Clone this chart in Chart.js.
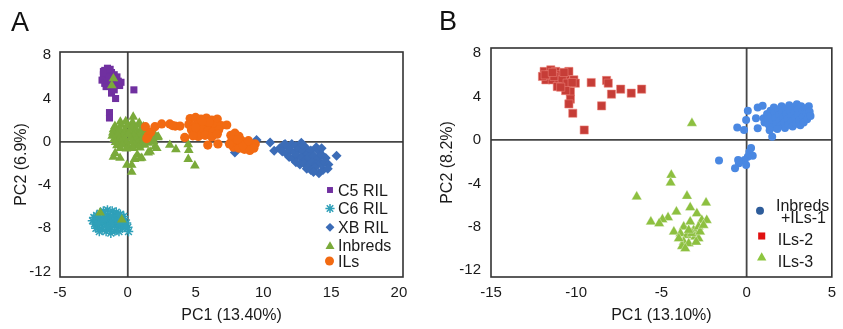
<!DOCTYPE html>
<html><head><meta charset="utf-8">
<script src="https://cdn.jsdelivr.net/npm/chart.js@4.4.0/dist/chart.umd.min.js"></script>
<style>
html,body{margin:0;padding:0;background:#fff;}
#wrap{position:relative;width:843px;height:329px;overflow:hidden;background:#fff;}
.pan{position:absolute;top:0;height:329px;}
.lbl{position:absolute;font-family:"Liberation Sans",Arial,sans-serif;font-size:27px;line-height:27px;color:#111;}
</style></head><body>
<div id="wrap">
<div class="pan" style="left:0;width:420px"><canvas id="cA" width="420" height="329"></canvas></div>
<div class="pan" style="left:420px;width:423px"><canvas id="cB" width="423" height="329"></canvas></div>
<div class="lbl" style="left:11px;top:9px">A</div>
<div class="lbl" style="left:439px;top:8px">B</div>
</div>
<script>
// ---------- Panel A data ----------
const aXTicks = [-5, 0, 5, 10, 15, 20];
const aYTicks = [-12, -8, -4, 0, 4, 8];
const aXTitle = 'PC1 (13.40%)';
const aYTitle = 'PC2 (6.9%)';
const aLabels = ['C5 RIL', 'C6 RIL', 'XB RIL', 'Inbreds', 'ILs'];

const c5Points = [[-1.8,6.2],[-1.7,6.6],[-1.5,6.8],[-1.3,6.7],[-1.2,6.4],[-1.6,6.0],[-1.4,6.1],[-1.0,6.2],[-0.8,6.0],[-0.7,5.6],[-1.9,5.7],[-1.7,5.4],[-1.5,5.6],[-1.3,5.3],[-1.1,5.8],[-0.9,5.4],[-0.6,5.2],[-1.6,5.1],[-1.4,5.9],[-1.2,5.0],[-1.0,4.8],[-1.8,6.5],[-1.3,6.0],[-0.5,5.5],[-1.2,4.5],[-0.9,4.0],[-1.35,2.7],[-1.35,2.2],[0.45,4.8]];

const c6Points = [[-2.6,-7.3],[-2.5,-7.0],[-2.45,-7.6],[-2.3,-6.8],[-2.25,-7.3],[-2.2,-7.9],[-2.05,-6.6],[-2.0,-7.1],[-1.95,-7.6],[-1.9,-8.1],[-1.8,-6.4],[-1.75,-6.9],[-1.7,-7.4],[-1.65,-7.85],[-1.6,-8.3],[-1.5,-6.3],[-1.45,-6.75],[-1.4,-7.2],[-1.35,-7.65],[-1.3,-8.1],[-1.25,-8.45],[-1.15,-6.4],[-1.1,-6.9],[-1.05,-7.35],[-1.0,-7.8],[-0.95,-8.25],[-0.85,-6.5],[-0.8,-7.0],[-0.75,-7.45],[-0.7,-7.9],[-0.65,-8.3],[-0.55,-6.7],[-0.5,-7.15],[-0.45,-7.6],[-0.4,-8.0],[-0.3,-6.9],[-0.25,-7.35],[-0.2,-7.8],[-0.1,-7.5],[0.0,-7.9],[0.05,-8.3],[-2.1,-8.3],[-1.55,-7.05],[-1.2,-7.55],[-0.9,-7.15],[-0.6,-7.55],[-2.35,-8.0],[-1.85,-7.25],[-1.25,-6.85],[-0.7,-6.8],[-1.5,-7.9],[-2.15,-7.55]];

const xbPoints = [[7.5,-0.15],[7.9,-1.0],[9.5,0.16],[10.5,-0.06],[10.8,-0.83],[15.4,-1.3],[11.2,-0.6],[11.5,-0.3],[11.8,-0.5],[12.1,-0.2],[12.4,-0.4],[12.8,-0.1],[13.1,-0.5],[11.4,-0.9],[11.7,-1.1],[12.0,-0.8],[12.3,-1.0],[12.6,-0.7],[12.9,-0.9],[13.2,-1.2],[13.5,-0.8],[13.9,-0.5],[14.1,-0.9],[11.9,-1.4],[12.2,-1.6],[12.5,-1.3],[12.8,-1.5],[13.1,-1.7],[13.4,-1.4],[13.7,-1.3],[14.0,-1.6],[14.3,-1.2],[14.6,-1.5],[12.4,-1.9],[12.7,-2.1],[13.0,-2.0],[13.3,-2.2],[13.6,-1.9],[13.9,-2.1],[14.2,-2.0],[14.5,-1.9],[14.8,-2.1],[13.2,-2.5],[13.5,-2.6],[13.8,-2.4],[14.1,-2.9],[14.4,-2.6],[14.75,-2.5],[13.7,-2.8],[11.6,-0.2],[12.9,-0.3],[14.3,-0.6]];

const inbredPoints = [[-0.55,1.85],[-0.15,1.9],[0.35,1.8],[0.85,1.75],[-0.95,1.45],[-0.5,1.55],[-0.05,1.5],[0.4,1.45],[0.75,1.55],[1.15,1.4],[-1.05,1.15],[-0.6,1.2],[-0.2,1.1],[0.25,1.25],[0.6,1.15],[1.0,1.2],[1.45,1.1],[-1.1,0.85],[-0.7,0.95],[-0.3,0.8],[0.1,0.9],[0.5,0.85],[0.95,0.95],[1.3,0.8],[1.75,0.9],[-1.15,0.55],[-0.75,0.6],[-0.35,0.5],[0.05,0.65],[0.45,0.55],[0.9,0.6],[1.35,0.5],[1.7,0.6],[2.05,0.55],[-1.0,0.25],[-0.6,0.3],[-0.25,0.2],[0.2,0.35],[0.65,0.25],[1.05,0.3],[1.45,0.2],[1.85,0.3],[2.2,0.4],[-0.9,-0.05],[-0.5,0.0],[-0.1,-0.1],[0.3,0.05],[0.75,-0.05],[1.15,0.0],[1.55,-0.1],[1.9,0.05],[-0.8,-0.35],[-0.4,-0.3],[0.05,-0.4],[0.45,-0.25],[0.85,-0.35],[1.25,-0.3],[-0.55,-0.6],[-0.1,-0.65],[0.4,-0.6],[0.9,-0.55],
  [0.4,2.3],[-1.06,5.85],[-1.18,5.2],[-0.93,-1.05],[-1.06,-1.4],[-0.57,-1.5],[-0.07,-2.15],[0.29,-2.15],[0.29,-2.8],[0.5,-1.6],[0.7,-1.2],[0.9,-1.53],[1.03,-1.5],[1.5,-1.0],[1.65,-0.92],[2.0,-0.46],[2.14,-0.6],[2.25,0.46],[3.1,-0.3],[3.55,-0.7],[4.46,-0.24],[4.5,-0.77],[4.46,-1.6],[4.95,-2.2],[-2.04,-6.55],[-0.44,-7.2]];

const ilPoints = [[1.3,1.4],[1.5,0.55],[1.7,0.9],[1.4,0.3],[2.0,1.4],[2.5,1.65],[3.1,1.65],[3.5,1.45],[3.85,1.45],[4.2,0.4],[3.3,1.5],
  [4.6,2.15],[5.0,2.25],[5.4,2.1],[5.8,2.2],[6.2,2.0],[6.6,2.1],[4.5,1.6],[4.9,1.5],[5.3,1.7],[5.7,1.55],[6.1,1.6],[6.5,1.4],[6.9,1.5],[7.3,1.55],[4.7,1.1],[5.1,0.9],[5.5,1.2],[5.9,1.0],[6.3,0.95],[6.7,1.1],[5.2,0.5],[5.7,0.6],[6.2,0.45],[6.6,0.7],[5.9,-0.3],[6.65,-0.2],[5.0,1.3],[6.0,1.8],[5.5,1.9],[4.8,0.55],
  [7.6,0.6],[7.9,0.8],[8.2,0.5],[7.7,0.2],[8.0,-0.1],[8.4,0.1],[8.8,-0.2],[9.1,-0.4],[9.4,-0.2],[7.8,-0.5],[8.2,-0.6],[8.6,-0.7],[9.0,-0.8],[8.5,-0.3],[8.1,0.2],[7.5,-0.2],[8.9,0.1],[9.3,-0.6]];

// ---------- Panel B data ----------
const bXTicks = [-15, -10, -5, 0, 5];
const bYTicks = [-12, -8, -4, 0, 4, 8];
const bXTitle = 'PC1 (13.10%)';
const bYTitle = 'PC2 (8.2%)';
const bLabels = ['Inbreds', '+ILs-1', 'ILs-2', 'ILs-3'];

const b1Points = [[1.0,2.0],[1.05,1.6],[1.2,2.4],[1.25,1.9],[1.3,1.4],[1.4,2.7],[1.45,2.2],[1.5,1.7],[1.55,1.2],[1.6,3.0],[1.65,2.5],[1.7,2.0],[1.75,1.5],[1.85,2.8],[1.9,2.3],[1.95,1.8],[2.0,1.3],[2.05,3.1],[2.1,2.6],[2.15,2.1],[2.2,1.6],[2.25,1.1],[2.3,2.9],[2.35,2.4],[2.4,1.9],[2.45,1.4],[2.5,3.2],[2.55,2.7],[2.6,2.2],[2.65,1.7],[2.7,1.25],[2.75,3.0],[2.8,2.5],[2.85,2.0],[2.9,1.5],[2.95,3.3],[3.0,2.8],[3.05,2.3],[3.1,1.8],[3.15,1.35],[3.2,3.1],[3.25,2.6],[3.3,2.1],[3.35,1.6],[3.45,2.9],[3.5,2.4],[3.55,1.9],[3.65,3.1],[3.7,2.6],[3.75,2.2],[1.35,0.9],[1.5,0.3],[1.8,1.0],
  [0.65,3.0],[0.94,3.15],[0.55,2.0],[0.65,1.08],[0.07,2.7],[-0.03,1.85],[-0.55,1.15],[-0.15,0.92],[0.26,-0.75],[0.16,-1.1],[0.36,-1.45],[0.07,-1.55],[-0.12,-1.85],[-0.5,-1.85],[-0.45,-2.15],[-0.03,-2.3],[-0.68,-2.6],[-1.62,-1.9]];

const b2Points = [[-11.88,6.31],[-11.49,6.46],[-11.2,6.31],[-10.91,6.0],[-10.62,5.85],[-10.43,6.31],[-10.14,5.54],[-10.05,5.23],[-11.78,5.54],[-11.4,5.54],[-11.01,5.38],[-10.72,5.08],[-10.53,4.77],[-10.34,4.46],[-11.59,6.0],[-11.3,5.85],[-10.82,5.54],[-10.53,5.23],[-10.24,5.29],[-11.98,5.85],[-11.11,4.92],[-10.62,4.55],[-11.82,6.0],[-11.4,6.22],[-10.72,6.22],[-10.91,4.86],
  [-10.34,3.76],[-10.43,3.32],[-10.2,2.46],[-9.53,0.92],[-9.12,5.29],[-8.22,5.48],[-8.12,5.23],[-7.93,4.22],[-8.51,3.14],[-7.39,4.68],[-6.77,4.31],[-6.16,4.68]];

const b3Points = [[-3.21,1.54],[-4.42,-3.23],[-4.46,-3.94],[-6.45,-5.23],[-3.5,-5.17],[-2.38,-5.79],[-3.31,-6.22],[-4.12,-6.62],[-4.61,-7.14],[-4.94,-7.32],[-5.62,-7.54],[-5.13,-7.69],[-2.92,-6.77],[-2.63,-7.39],[-2.34,-7.39],[-3.69,-8.0],[-4.27,-8.46],[-3.88,-8.62],[-3.5,-8.77],[-3.11,-8.31],[-2.82,-8.0],[-3.02,-8.92],[-3.69,-9.39],[-3.79,-9.79],[-3.4,-9.54],[-2.82,-9.08],[-3.21,-8.6],[-2.73,-8.46],[-2.53,-7.85],[-3.31,-7.54],[-3.98,-9.08],[-3.6,-10.0],[-2.96,-9.39],[-3.4,-8.31]];

// ---------- helpers ----------
const F = '"Liberation Sans", Arial, sans-serif';
const TXT = '#1a1a1a';
const pts = a => a.map(p => ({x: p[0], y: p[1]}));

const frame = {
  id: 'frame',
  beforeDatasetsDraw(c) {
    const {ctx, chartArea: a, scales: {x, y}} = c;
    ctx.save();
    ctx.strokeStyle = '#454545'; ctx.lineWidth = 1.8;
    const px = x.getPixelForValue(0), py = y.getPixelForValue(0);
    ctx.beginPath();
    ctx.moveTo(px, a.top); ctx.lineTo(px, a.bottom);
    ctx.moveTo(a.left, py); ctx.lineTo(a.right, py);
    ctx.stroke();
    ctx.restore();
  },
  afterDatasetsDraw(c) {
    const {ctx, chartArea: a} = c;
    ctx.save();
    ctx.strokeStyle = '#333'; ctx.lineWidth = 1.6;
    ctx.strokeRect(a.left, a.top, a.right - a.left, a.bottom - a.top);
    ctx.restore();
  }
};

const ilegend = {
  id: 'ilegend',
  afterDraw(c, args, o) {
    const ctx = c.ctx;
    ctx.save();
    (o.items || []).forEach(it => {
      ctx.fillStyle = it.color; ctx.strokeStyle = it.color; ctx.lineWidth = it.bw || 1;
      Chart.helpers.drawPoint(ctx, {pointStyle: it.style, radius: it.r, rotation: 0, borderWidth: it.bw || 0}, it.mx, it.my);
      ctx.fillStyle = TXT; ctx.font = '16px ' + F; ctx.textBaseline = 'alphabetic'; ctx.textAlign = 'left';
      it.lines.forEach(l => ctx.fillText(l.t, l.x, l.y));
    });
    ctx.restore();
  }
};

function mkScales(xmin, xmax, xticks, ymin, ymax, yticks, xTitle, yTitle, yW, yTitlePad, yTickPad) {
  return {
    x: {
      type: 'linear', min: xmin, max: xmax,
      afterBuildTicks: s => { s.ticks = xticks.map(v => ({value: v})); },
      grid: {display: false, drawTicks: false}, border: {display: false},
      ticks: {font: {size: 15, family: F}, color: TXT, padding: 7, maxRotation: 0, autoSkip: false},
      title: {display: true, text: xTitle, font: {size: 16, family: F}, color: TXT, padding: {top: 0, bottom: 4}},
      afterFit: s => { s.height = 52; }
    },
    y: {
      type: 'linear', min: ymin, max: ymax,
      afterBuildTicks: s => { s.ticks = yticks.map(v => ({value: v})); },
      grid: {display: false, drawTicks: false}, border: {display: false},
      ticks: {font: {size: 15, family: F}, color: TXT, padding: yTickPad, autoSkip: false},
      title: {display: true, text: yTitle, font: {size: 16, family: F}, color: TXT, padding: {top: yTitlePad, bottom: 0}},
      afterFit: s => { s.width = yW; }
    }
  };
}

Chart.defaults.font.family = F;

new Chart(document.getElementById('cA'), {
  type: 'scatter',
  data: {
    datasets: [
      {label: aLabels[4], data: pts(ilPoints), order: 0, pointStyle: 'circle', pointRadius: 4.6, backgroundColor: '#F26A12', borderColor: '#F26A12', borderWidth: 0},
      {label: aLabels[3], data: pts(inbredPoints), order: 1, pointStyle: 'triangle', pointRadius: 5.6, backgroundColor: '#7AAA3A', borderColor: '#7AAA3A', borderWidth: 0},
      {label: aLabels[2], data: pts(xbPoints), order: 2, pointStyle: 'rectRot', pointRadius: 5, backgroundColor: '#3B6CB7', borderColor: '#3B6CB7', borderWidth: 0},
      {label: aLabels[1], data: pts(c6Points), order: 3, pointStyle: 'star', pointRadius: 4.8, backgroundColor: '#2FA0B9', borderColor: '#2FA0B9', borderWidth: 1.5},
      {label: aLabels[0], data: pts(c5Points), order: 4, pointStyle: 'rect', pointRadius: 5, backgroundColor: '#7030A0', borderColor: '#7030A0', borderWidth: 0}
    ]
  },
  options: {
    responsive: false, animation: false, events: [],
    layout: {padding: {top: 52, right: 17, bottom: 0, left: 0}},
    scales: mkScales(-5, 20.3, aXTicks, -12.5, 8.3, aYTicks, aXTitle, aYTitle, 60, 12, 9),
    plugins: {
      legend: {display: false}, tooltip: {enabled: false},
      ilegend: {items: [
        {style: 'rect', r: 4.2, color: '#7030A0', mx: 330, my: 190, lines: [{t: aLabels[0], x: 338, y: 195.7}]},
        {style: 'star', r: 4.6, bw: 1.5, color: '#2FA0B9', mx: 330, my: 208.5, lines: [{t: aLabels[1], x: 338, y: 214.4}]},
        {style: 'rectRot', r: 4.4, color: '#3B6CB7', mx: 330, my: 227.3, lines: [{t: aLabels[2], x: 338, y: 233.2}]},
        {style: 'triangle', r: 5.2, color: '#7AAA3A', mx: 330, my: 246.5, lines: [{t: aLabels[3], x: 338, y: 251.2}]},
        {style: 'circle', r: 4.5, color: '#F26A12', mx: 329.5, my: 261, lines: [{t: aLabels[4], x: 338, y: 267}]}
      ]}
    }
  },
  plugins: [frame, ilegend]
});

new Chart(document.getElementById('cB'), {
  type: 'scatter',
  data: {
    datasets: [
      {label: 'Inbreds +ILs-1', data: pts(b1Points), order: 0, pointStyle: 'circle', pointRadius: 4, backgroundColor: '#4A88E2', borderColor: '#4A88E2', borderWidth: 0},
      {label: bLabels[2], data: pts(b2Points), order: 1, pointStyle: 'rect', pointRadius: 5.8, backgroundColor: '#C63D37', borderColor: 'rgba(235,130,120,0.8)', borderWidth: 0.7},
      {label: bLabels[3], data: pts(b3Points), order: 2, pointStyle: 'triangle', pointRadius: 6, backgroundColor: '#8DC040', borderColor: 'rgba(255,255,255,0.55)', borderWidth: 0.6}
    ]
  },
  options: {
    responsive: false, animation: false, events: [],
    layout: {padding: {top: 48, right: 6, bottom: 0, left: 0}},
    scales: mkScales(-15, 5, bXTicks, -12.62, 8.47, bYTicks, bXTitle, bYTitle, 71, 18, 10),
    plugins: {
      legend: {display: false}, tooltip: {enabled: false},
      ilegend: {items: [
        {style: 'circle', r: 4, color: '#2E5C9A', mx: 340, my: 210.7, lines: [{t: bLabels[0], x: 356, y: 210.5}, {t: bLabels[1], x: 361, y: 222.5}]},
        {style: 'rect', r: 5, color: '#E01010', mx: 341.7, my: 236, lines: [{t: bLabels[2], x: 357.7, y: 245}]},
        {style: 'triangle', r: 5.4, color: '#8DC63F', mx: 341.7, my: 257.7, lines: [{t: bLabels[3], x: 357.7, y: 266.7}]}
      ]}
    }
  },
  plugins: [frame, ilegend]
});
</script>
</body></html>
